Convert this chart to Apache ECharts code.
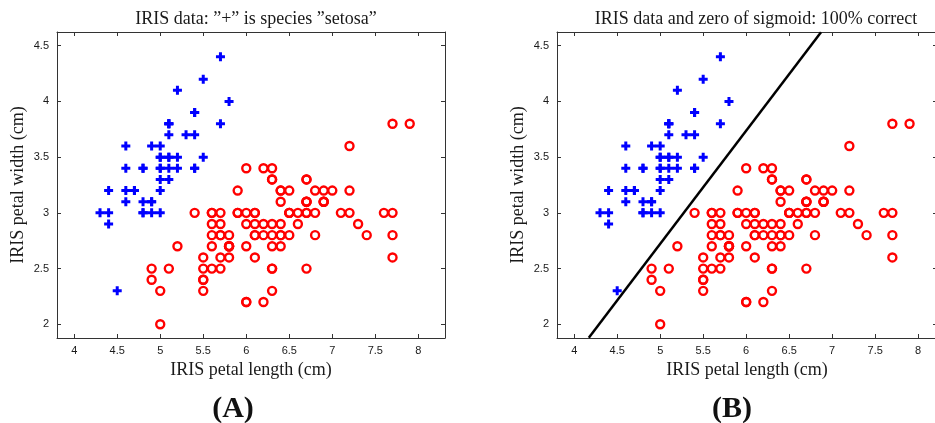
<!DOCTYPE html>
<html><head><meta charset="utf-8">
<script src="https://cdn.jsdelivr.net/npm/echarts@6/dist/echarts.min.js"></script>
<style>html,body{margin:0;padding:0;background:#fff}#c{width:935px;height:423px}</style>
</head><body><div id="c"></div>
<script>
// Setosa (blue "+")
const setosaLength = [5.1,4.9,4.7,4.6,5.0,5.4,4.6,5.0,4.4,4.9,5.4,4.8,4.8,4.3,5.8,5.7,5.4,5.1,5.7,5.1,5.4,5.1,4.6,5.1,4.8,5.0,5.0,5.2,5.2,4.7,4.8,5.4,5.2,5.5,4.9,5.0,5.5,4.9,4.4,5.1,5.0,4.5,4.4,5.0,5.1,4.8,5.1,4.6,5.3,5.0];
const setosaWidth  = [3.5,3.0,3.2,3.1,3.6,3.9,3.4,3.4,2.9,3.1,3.7,3.4,3.0,3.0,4.0,4.4,3.9,3.5,3.8,3.8,3.4,3.7,3.6,3.3,3.4,3.0,3.4,3.5,3.4,3.2,3.1,3.4,4.1,4.2,3.1,3.2,3.5,3.6,3.0,3.4,3.5,2.3,3.2,3.5,3.8,3.0,3.8,3.2,3.7,3.3];
// Other species (red "o")
const otherLength = [7.0,6.4,6.9,5.5,6.5,5.7,6.3,4.9,6.6,5.2,5.0,5.9,6.0,6.1,5.6,6.7,5.6,5.8,6.2,5.6,5.9,6.1,6.3,6.1,6.4,6.6,6.8,6.7,6.0,5.7,5.5,5.5,5.8,6.0,5.4,6.0,6.7,6.3,5.6,5.5,5.5,6.1,5.8,5.0,5.6,5.7,5.7,6.2,5.1,5.7,
  6.3,5.8,7.1,6.3,6.5,7.6,4.9,7.3,6.7,7.2,6.5,6.4,6.8,5.7,5.8,6.4,6.5,7.7,7.7,6.0,6.9,5.6,7.7,6.3,6.7,7.2,6.2,6.1,6.4,7.2,7.4,7.9,6.4,6.3,6.1,7.7,6.3,6.4,6.0,6.9,6.7,6.9,5.8,6.8,6.7,6.7,6.3,6.5,6.2,5.9];
const otherWidth  = [3.2,3.2,3.1,2.3,2.8,2.8,3.3,2.4,2.9,2.7,2.0,3.0,2.2,2.9,2.9,3.1,3.0,2.7,2.2,2.5,3.2,2.8,2.5,2.8,2.9,3.0,2.8,3.0,2.9,2.6,2.4,2.4,2.7,2.7,3.0,3.4,3.1,2.3,3.0,2.5,2.6,3.0,2.6,2.3,2.7,3.0,2.9,2.9,2.5,2.8,
  3.3,2.7,3.0,2.9,3.0,3.0,2.5,2.9,2.5,3.6,3.2,2.7,3.0,2.5,2.8,3.2,3.0,3.8,2.6,2.2,3.2,2.8,2.8,2.7,3.3,3.2,2.8,3.0,2.8,3.0,2.8,3.8,2.8,2.8,2.6,3.0,3.4,3.1,3.0,3.1,3.1,3.1,2.7,3.2,3.3,3.0,2.5,3.0,3.4,3.0];
// Zero of sigmoid (decision boundary) endpoints
const boundaryLength = [4.17, 6.87];
const boundaryWidth  = [1.88, 4.62];
// Tick labels
const xTicks = [4, 4.5, 5, 5.5, 6, 6.5, 7, 7.5, 8];
const yTicks = [2, 2.5, 3, 3.5, 4, 4.5];
const titles = ['IRIS data: \u201D+\u201D is species \u201Dsetosa\u201D', 'IRIS data and zero of sigmoid: 100% correct'];
const xName = 'IRIS petal length (cm)';
const yName = 'IRIS petal width (cm)';
const panelLabels = ['(A)', '(B)'];

const zip = (a, b) => a.map((v, i) => [v, b[i]]);
const setosa = zip(setosaLength, setosaWidth);
const others = zip(otherLength, otherWidth);
const boundary = zip(boundaryLength, boundaryWidth);

// Axis extents: left panel shows 3.8..8.31; right panel is cut by the image edge at ~8.22
const XMIN = 3.8, XMAX_A = 8.31, XMAX_B = 8.219, YMIN = 1.877, YMAX = 4.623;
const serif = '"Liberation Serif","DejaVu Serif",serif';
const sans = '"Liberation Sans","DejaVu Sans",sans-serif';
const lineStyle = {color: '#333', width: 1};
const tick = {show: true, inside: true, length: 4, lineStyle: {color: '#333'}, customValues: null};

function xAxisFor(g, top, xmax) {
  return {
    type: 'value', gridIndex: g, min: XMIN, max: xmax, position: top ? 'top' : 'bottom',
    axisLine: {show: true, onZero: false, lineStyle},
    axisTick: Object.assign({}, tick, {customValues: xTicks}),
    axisLabel: top ? {show: false} : {show: true, customValues: xTicks, color: '#1a1a1a', fontFamily: sans, fontSize: 11, margin: 7},
    splitLine: {show: false},
    name: top ? '' : xName, nameLocation: 'middle', nameGap: 21,
    nameTextStyle: {fontFamily: serif, fontSize: 18, color: '#1a1a1a'}
  };
}
function yAxisFor(g, right) {
  return {
    type: 'value', gridIndex: g, min: YMIN, max: YMAX, position: right ? 'right' : 'left',
    axisLine: {show: true, onZero: false, lineStyle},
    axisTick: Object.assign({}, tick, {customValues: yTicks}),
    axisLabel: right ? {show: false} : {show: true, customValues: yTicks, color: '#1a1a1a', fontFamily: sans, fontSize: 11, margin: 8},
    splitLine: {show: false},
    name: right ? '' : yName, nameLocation: 'middle', nameGap: 30, nameRotate: 90,
    nameTextStyle: {fontFamily: serif, fontSize: 18, color: '#1a1a1a'}
  };
}

const plus = 'path://M3,0H6V3H9V6H6V9H3V6H0V3H3Z';
function pts(xi, yi) {
  return [
    {type: 'scatter', xAxisIndex: xi, yAxisIndex: yi, data: setosa, symbol: plus, symbolSize: 9,
     itemStyle: {color: '#0000ff', opacity: 1}, silent: true, animation: false},
    {type: 'scatter', xAxisIndex: xi, yAxisIndex: yi, data: others, symbol: 'circle', symbolSize: 8,
     itemStyle: {color: 'rgba(0,0,0,0)', borderColor: '#ff0000', borderWidth: 2.4, opacity: 1}, silent: true, animation: false}
  ];
}

const chart = echarts.init(document.getElementById('c'), null, {renderer: 'canvas'});
chart.setOption({
  backgroundColor: '#fff',
  animation: false,
  title: [
    {text: titles[0], left: 251, top: 5, textAlign: 'center', textStyle: {fontFamily: serif, fontSize: 18, fontWeight: 'normal', color: '#1a1a1a'}},
    {text: titles[1], left: 751, top: 5, textAlign: 'center', textStyle: {fontFamily: serif, fontSize: 18, fontWeight: 'normal', color: '#1a1a1a'}},
    {text: panelLabels[0], left: 228, top: 389, textAlign: 'center', textStyle: {fontFamily: serif, fontSize: 30, fontWeight: 'bold', color: '#111'}},
    {text: panelLabels[1], left: 727, top: 389, textAlign: 'center', textStyle: {fontFamily: serif, fontSize: 30, fontWeight: 'bold', color: '#111'}}
  ],
  grid: [
    {left: 57, top: 32, width: 388, height: 306, outerBoundsMode: 'none'},
    {left: 557, top: 32, width: 380, height: 306, outerBoundsMode: 'none'}
  ],
  xAxis: [xAxisFor(0, false, XMAX_A), xAxisFor(0, true, XMAX_A), xAxisFor(1, false, XMAX_B), xAxisFor(1, true, XMAX_B)],
  yAxis: [yAxisFor(0, false), yAxisFor(0, true), yAxisFor(1, false), yAxisFor(1, true)],
  series: [
    ...pts(0, 0),
    {type: 'line', xAxisIndex: 2, yAxisIndex: 2, data: boundary, symbol: 'none', clip: true,
     lineStyle: {color: '#000', width: 2.5}, silent: true, animation: false},
    ...pts(2, 2)
  ]
});
</script>
</body></html>
